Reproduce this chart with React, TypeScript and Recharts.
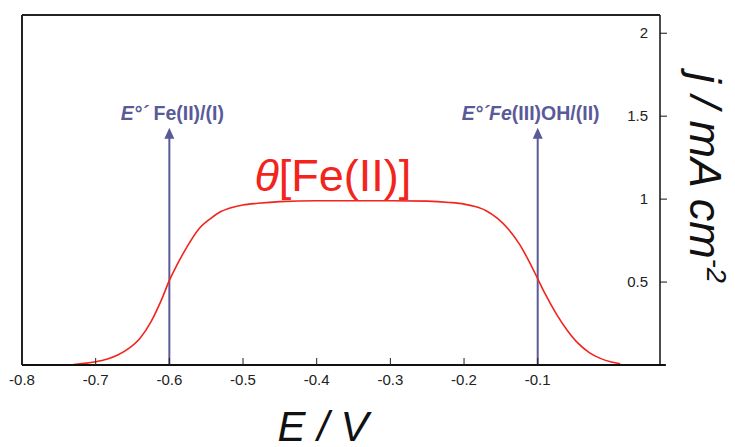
import React from 'react';
import { ComposedChart, Line, XAxis, YAxis, ReferenceLine, ReferenceDot } from 'recharts';

// Potential E / V
const potentials = [-0.73, -0.715, -0.7, -0.685, -0.67, -0.655, -0.64, -0.625, -0.61, -0.6, -0.59, -0.575, -0.56, -0.545, -0.53, -0.515, -0.5, -0.48, -0.45, -0.4, -0.3, -0.25, -0.22, -0.2, -0.185, -0.17, -0.155, -0.14, -0.125, -0.11, -0.1, -0.09, -0.075, -0.06, -0.045, -0.03, -0.015, 0, 0.012];
// theta[Fe(II)] coverage curve (j / mA cm-2 scale)
const coverage = [0.003, 0.01, 0.02, 0.035, 0.06, 0.1, 0.16, 0.26, 0.4, 0.51, 0.6, 0.72, 0.82, 0.88, 0.925, 0.95, 0.965, 0.975, 0.985, 0.99, 0.99, 0.988, 0.98, 0.97, 0.955, 0.93, 0.885, 0.82, 0.73, 0.61, 0.52, 0.43, 0.31, 0.21, 0.13, 0.075, 0.04, 0.018, 0.008];

const xTicks = [-0.8, -0.7, -0.6, -0.5, -0.4, -0.3, -0.2, -0.1];
const yTicks = [0.5, 1, 1.5, 2];
const xDomain = [-0.8, 0.066];
const xAxisEnd = 0.074;
const yDomain = [0, 2.11];

const arrowPotentials = [-0.6, -0.1];
const arrowTop = 1.43;
const arrowLabels = [
  { italic: 'E°´ ', plain: 'Fe(II)/(I)' },
  { italic: 'E°´Fe', plain: '(III)OH/(II)' },
];
const arrowLabelShift = [3, -7];

const curveLabelPos = { x: -0.378, y: 1.05 };

const data = potentials.map((x, i) => ({ x, y: coverage[i] }));

const FONT = '"Liberation Sans", Arial, sans-serif';
const BLUE = '#5a5a98';
const RED = '#f2241c';

const XTick = (props: any) => {
  const { x, y, payload } = props;
  return (
    <g>
      <line x1={x} y1={y} x2={x} y2={y - 7} stroke="#222" strokeWidth={1} />
      <text x={x} y={y + 20} textAnchor="middle" fontFamily={FONT} fontSize={15} fill="#222">
        {payload.value}
      </text>
    </g>
  );
};

const YTick = (props: any) => {
  const { x, y, payload } = props;
  return (
    <text x={x - 21} y={y + 5} textAnchor="end" fontFamily={FONT} fontSize={15} fill="#222">
      {payload.value}
    </text>
  );
};

const ArrowHead = (props: any) => {
  const { cx, cy } = props;
  return <path d={`M${cx},${cy} L${cx - 5},${cy + 11} L${cx + 5},${cy + 11} Z`} fill={BLUE} />;
};

export default function App() {
  return (
    <div style={{ position: 'absolute', left: 0, top: 0, width: 735, height: 447, background: '#fff' }}>
      <ComposedChart
        width={735}
        height={447}
        data={data}
        margin={{ top: 15, right: 0, left: 22, bottom: 0 }}
      >
        <XAxis
          dataKey="x"
          type="number"
          domain={xDomain}
          ticks={xTicks}
          allowDataOverflow
          height={82}
          axisLine={{ stroke: '#111', strokeWidth: 2 }}
          tickLine={false}
          tickSize={0}
          tickMargin={0}
          tick={<XTick />}
          interval={0}
          label={{
            content: () => (
              <text x={323} y={441} textAnchor="middle" fontFamily={FONT} fontSize={42} fontStyle="italic" fill="#111">
                E / V
              </text>
            ),
          }}
        />
        <YAxis
          dataKey="y"
          orientation="right"
          type="number"
          domain={yDomain}
          ticks={yTicks}
          allowDataOverflow
          width={75}
          axisLine={{ stroke: '#111', strokeWidth: 1.5 }}
          tickLine={{ stroke: '#111', strokeWidth: 1 }}
          tickSize={7}
          tickMargin={2}
          tick={<YTick />}
          interval={0}
          label={{
            content: () => (
              <text
                transform="translate(690,73) rotate(90)"
                x={0}
                y={0}
                textAnchor="start"
                fontFamily={FONT}
                fontSize={45}
                fontStyle="italic"
                fill="#111"
              >
                j / mA cm
                <tspan fontSize={27} dy={-17}>-2</tspan>
              </text>
            ),
          }}
        />
        <ReferenceLine y={yDomain[1]} stroke="#222" strokeWidth={2} ifOverflow="visible" />
        <ReferenceLine x={xDomain[0]} stroke="#222" strokeWidth={2} ifOverflow="visible" />
        <ReferenceLine
          segment={[{ x: xDomain[1], y: 0 }, { x: xAxisEnd, y: 0 }]}
          stroke="#111"
          strokeWidth={2}
          ifOverflow="visible"
        />
        {arrowPotentials.map((p) => (
          <ReferenceLine
            key={`shaft${p}`}
            segment={[{ x: p, y: 0 }, { x: p, y: arrowTop - 0.05 }]}
            stroke={BLUE}
            strokeWidth={2}
            ifOverflow="visible"
          />
        ))}
        {arrowPotentials.map((p, i) => (
          <ReferenceDot
            key={`head${p}`}
            x={p}
            y={arrowTop}
            r={5}
            ifOverflow="visible"
            shape={<ArrowHead />}
            label={{
              content: (lp: any) => {
                const vb = lp.viewBox || {};
                const cx = (vb.cx ?? (vb.x + (vb.width || 0) / 2)) as number;
                const cy = (vb.cy ?? (vb.y + (vb.height || 0) / 2)) as number;
                return (
                  <text
                    x={cx + arrowLabelShift[i]}
                    y={cy - 8}
                    textAnchor="middle"
                    fontFamily={FONT}
                    fontSize={19.5}
                    fontWeight="bold"
                    fill={BLUE}
                  >
                    <tspan fontStyle="italic">{arrowLabels[i].italic}</tspan>
                    <tspan>{arrowLabels[i].plain}</tspan>
                  </text>
                );
              },
            }}
          />
        ))}
        <Line
          type="monotone"
          dataKey="y"
          stroke={RED}
          strokeWidth={1.6}
          dot={false}
          isAnimationActive={false}
        />
        <ReferenceDot
          x={curveLabelPos.x}
          y={curveLabelPos.y}
          r={0}
          fill="none"
          stroke="none"
          ifOverflow="visible"
          label={{
            content: (lp: any) => {
              const vb = lp.viewBox || {};
              const cx = (vb.cx ?? (vb.x + (vb.width || 0) / 2)) as number;
              const cy = (vb.cy ?? (vb.y + (vb.height || 0) / 2)) as number;
              return (
                <text x={cx} y={cy} textAnchor="middle" fontFamily={FONT} fontSize={45} fill={RED}>
                  <tspan fontStyle="italic">θ</tspan>
                  <tspan>[Fe(II)]</tspan>
                </text>
              );
            },
          }}
        />
      </ComposedChart>
    </div>
  );
}
